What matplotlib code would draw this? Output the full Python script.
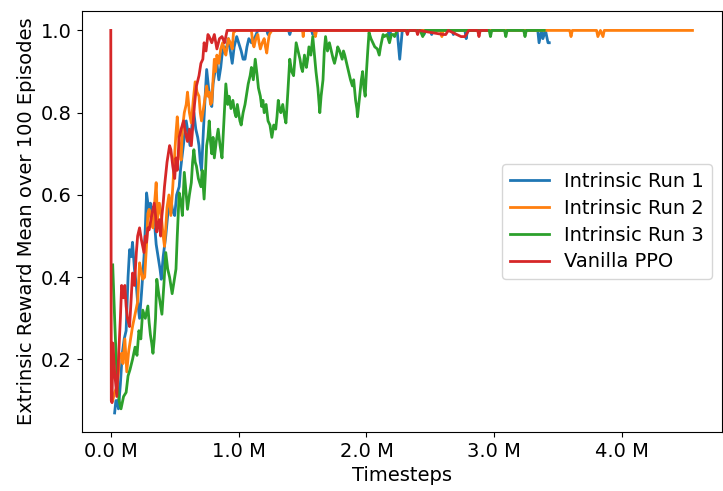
import matplotlib
matplotlib.use("Agg")
import matplotlib.pyplot as plt
from matplotlib.ticker import FuncFormatter

## Data (timesteps in millions, reward mean)
run1_t = [0.03, 0.04, 0.05, 0.06, 0.075, 0.09, 0.105, 0.12, 0.135, 0.147, 0.16, 0.17, 0.185,
          0.20, 0.21, 0.225, 0.24, 0.26, 0.27, 0.28, 0.29, 0.30, 0.31, 0.32, 0.33, 0.34,
          0.355, 0.37, 0.385, 0.395, 0.41, 0.43, 0.445, 0.46, 0.47, 0.485, 0.50, 0.515,
          0.535, 0.545, 0.56, 0.575, 0.59, 0.605, 0.62, 0.635, 0.65, 0.665, 0.68, 0.69,
          0.70, 0.71, 0.725, 0.74, 0.75, 0.765, 0.78, 0.79, 0.80, 0.815, 0.83, 0.845, 0.86,
          0.87, 0.885, 0.90, 0.92, 0.935, 0.95, 0.965, 0.985, 1.00, 1.02, 1.035, 1.05,
          1.065, 1.08, 1.10, 1.13, 1.15,
          1.22, 1.23, 1.24, 1.39, 1.40, 1.41, 1.57, 1.58, 1.59, 2.17, 2.18, 2.19, 2.24,
          2.26, 2.28, 2.44, 2.45, 2.46, 2.50, 2.51, 2.52, 2.67, 2.68, 2.69, 2.77, 2.78,
          2.79, 3.34, 3.35, 3.37, 3.38, 3.40, 3.42, 3.43]
run1_r = [0.07, 0.10, 0.10, 0.08, 0.14, 0.215, 0.25, 0.27, 0.40, 0.467, 0.45, 0.485, 0.42,
          0.38, 0.34, 0.30, 0.36, 0.45, 0.52, 0.605, 0.58, 0.56, 0.58, 0.55, 0.57, 0.54,
          0.48, 0.45, 0.42, 0.395, 0.45, 0.50, 0.55, 0.57, 0.59, 0.56, 0.55, 0.60,
          0.62, 0.66, 0.70, 0.74, 0.78, 0.75, 0.72, 0.77, 0.80, 0.76, 0.74, 0.72,
          0.68, 0.66, 0.76, 0.85, 0.905, 0.86, 0.83, 0.815, 0.87, 0.90, 0.92, 0.88, 0.91,
          0.94, 0.96, 0.95, 0.98, 0.95, 0.92, 0.96, 0.985, 0.97, 0.95, 0.93, 0.93,
          0.96, 0.98, 0.97, 0.985, 1.0,
          1.0, 0.99, 1.0, 1.0, 0.99, 1.0, 1.0, 0.99, 1.0, 1.0, 0.98, 1.0, 1.0,
          0.93, 1.0, 1.0, 0.99, 1.0, 1.0, 0.99, 1.0, 1.0, 0.99, 1.0, 1.0, 0.98,
          1.0, 1.0, 0.97, 1.0, 0.98, 1.0, 0.97, 0.97]

run2_t = [0.015, 0.03, 0.05, 0.06, 0.07, 0.085, 0.095, 0.11, 0.125, 0.14, 0.155, 0.17, 0.19,
          0.21, 0.225, 0.24, 0.25, 0.265, 0.28, 0.29, 0.30, 0.315, 0.33, 0.345, 0.355,
          0.365, 0.38, 0.395, 0.41, 0.42, 0.43, 0.44, 0.455, 0.47, 0.485, 0.50, 0.51,
          0.52, 0.535, 0.55, 0.56, 0.575, 0.59, 0.60, 0.615, 0.63, 0.645, 0.66, 0.675,
          0.69, 0.70, 0.71, 0.73, 0.75, 0.76, 0.77, 0.78, 0.79, 0.80, 0.81, 0.82, 0.83,
          0.845, 0.86, 0.875, 0.89, 0.90, 0.91, 0.92, 0.935, 0.95, 0.96, 0.98,
          1.10, 1.11, 1.12, 1.135, 1.15, 1.16, 1.17, 1.185, 1.20, 1.21, 1.22, 1.23, 1.24,
          1.26, 1.50, 1.505, 1.51, 1.59, 1.60,
          1.61, 2.58, 2.59, 2.60, 3.59, 3.60, 3.61, 3.80, 3.81, 3.83, 3.85, 3.86, 4.55]
run2_r = [0.10, 0.12, 0.135, 0.17, 0.21, 0.215, 0.19, 0.25, 0.17, 0.22, 0.25, 0.28, 0.31,
          0.34, 0.435, 0.41, 0.395, 0.40, 0.48, 0.555, 0.565, 0.54, 0.52, 0.59, 0.63,
          0.54, 0.58, 0.55, 0.50, 0.475, 0.52, 0.57, 0.60, 0.55, 0.62, 0.70, 0.75,
          0.79, 0.72, 0.685, 0.76, 0.80, 0.82, 0.85, 0.80, 0.775, 0.83, 0.875, 0.85,
          0.84, 0.80, 0.78, 0.82, 0.865, 0.84, 0.85, 0.82, 0.825, 0.88, 0.93, 0.90, 0.94,
          0.92, 0.955, 0.97, 0.95, 0.94, 0.96, 0.98, 0.97, 0.955, 0.995, 1.0,
          1.0, 0.97, 0.96, 0.98, 0.99, 0.97, 0.955, 0.97, 0.98, 0.96, 0.945, 0.97, 0.99,
          1.0, 1.0, 0.985, 1.0, 1.0, 0.985,
          1.0, 1.0, 0.985, 1.0, 1.0, 0.985, 1.0, 1.0, 0.985, 1.0, 0.985, 1.0, 1.0]

run3_t = [0.015, 0.03, 0.05, 0.065, 0.08, 0.10, 0.12, 0.135, 0.15, 0.17, 0.19, 0.205, 0.22,
          0.235, 0.25, 0.27, 0.29, 0.30, 0.31, 0.32, 0.33, 0.34, 0.35, 0.36, 0.375, 0.39,
          0.40, 0.415, 0.43, 0.445, 0.46, 0.47, 0.48, 0.495, 0.51, 0.52, 0.535, 0.55,
          0.56, 0.575, 0.585, 0.60, 0.615, 0.63, 0.64, 0.65, 0.66, 0.67, 0.685, 0.705,
          0.715, 0.73, 0.74, 0.75, 0.76, 0.77, 0.78, 0.79, 0.80, 0.81, 0.825, 0.84, 0.855,
          0.87, 0.885, 0.90, 0.915, 0.925, 0.94, 0.955, 0.97, 0.98, 0.99, 1.00, 1.01,
          1.02, 1.035, 1.05, 1.06, 1.075, 1.09, 1.10, 1.115, 1.13, 1.145, 1.155, 1.17,
          1.18, 1.19, 1.20, 1.215, 1.23, 1.245, 1.26, 1.275, 1.29, 1.30, 1.31, 1.32, 1.33,
          1.345, 1.36, 1.37, 1.385, 1.40, 1.415, 1.43, 1.44, 1.45, 1.465, 1.48, 1.49,
          1.50, 1.515, 1.53, 1.54, 1.55, 1.565, 1.58, 1.59, 1.605, 1.62, 1.635, 1.645,
          1.66, 1.67, 1.68, 1.695, 1.71, 1.725, 1.74, 1.75, 1.765, 1.775, 1.79, 1.81,
          1.82, 1.83, 1.845, 1.86, 1.875, 1.89, 1.90, 1.915, 1.925, 1.93, 1.94, 1.95,
          1.96, 1.97, 1.98, 1.99, 2.00, 2.01, 2.02, 2.035, 2.05, 2.065, 2.085, 2.10,
          2.11, 2.12, 2.13, 2.14, 2.16, 2.18, 2.195, 2.21, 2.22, 2.24,
          2.42, 2.44, 2.46, 2.96, 2.97, 2.98, 3.08, 3.09, 3.10, 3.23, 3.24, 3.25, 3.39]
run3_r = [0.43, 0.30, 0.14, 0.10, 0.08, 0.11, 0.12, 0.16, 0.175, 0.20, 0.23, 0.21, 0.27,
          0.25, 0.32, 0.30, 0.33, 0.29, 0.26, 0.24, 0.215, 0.25, 0.30, 0.395, 0.36, 0.33,
          0.31, 0.38, 0.46, 0.42, 0.40, 0.38, 0.36, 0.39, 0.42, 0.50, 0.605, 0.58,
          0.55, 0.655, 0.62, 0.565, 0.60, 0.63, 0.68, 0.71, 0.68, 0.67, 0.64, 0.62,
          0.66, 0.59, 0.65, 0.72, 0.74, 0.78, 0.73, 0.70, 0.74, 0.69, 0.73, 0.76, 0.72,
          0.69, 0.78, 0.87, 0.82, 0.84, 0.81, 0.83, 0.80, 0.79, 0.82, 0.80, 0.78,
          0.77, 0.80, 0.82, 0.84, 0.87, 0.89, 0.91, 0.88, 0.93, 0.89, 0.86, 0.84,
          0.815, 0.83, 0.80, 0.82, 0.78, 0.77, 0.74, 0.77, 0.76, 0.79, 0.83, 0.81, 0.80,
          0.82, 0.79, 0.775, 0.85, 0.93, 0.90, 0.89, 0.93, 0.97, 0.95, 0.93, 0.91,
          0.90, 0.94, 0.91, 0.93, 0.96, 0.94, 0.985, 0.95, 0.90, 0.86, 0.80, 0.84,
          0.88, 0.95, 0.985, 0.95, 0.97, 0.95, 0.93, 0.92, 0.94, 0.96, 0.95, 0.93,
          0.95, 0.94, 0.92, 0.90, 0.88, 0.865, 0.88, 0.83, 0.81, 0.79, 0.82, 0.85,
          0.88, 0.90, 0.86, 0.84, 0.90, 0.95, 0.995, 0.98, 0.97, 0.96, 0.955, 0.94,
          0.96, 0.975, 0.99, 0.985, 0.99, 0.97, 0.99, 0.99, 0.985, 1.0,
          1.0, 0.985, 1.0, 1.0, 0.985, 1.0, 1.0, 0.985, 1.0, 1.0, 0.985, 1.0, 1.0]

ppo_t = [0.0, 0.004, 0.01, 0.016, 0.03, 0.047, 0.06, 0.075, 0.085, 0.10, 0.11, 0.12, 0.13,
         0.147, 0.16, 0.17, 0.185, 0.20, 0.21, 0.225, 0.24, 0.26, 0.27, 0.28, 0.29, 0.30,
         0.32, 0.34, 0.35, 0.36, 0.37, 0.38, 0.39, 0.40, 0.41, 0.42, 0.44, 0.46, 0.47,
         0.485, 0.50, 0.51, 0.52, 0.535, 0.55, 0.57, 0.585, 0.60, 0.615, 0.63, 0.645,
         0.655, 0.67, 0.69, 0.705, 0.72, 0.73, 0.745, 0.76, 0.77, 0.79, 0.81, 0.83, 0.85,
         0.87, 0.89, 0.91, 2.31, 2.32,
         2.33, 2.39, 2.40, 2.41, 2.60, 2.62, 2.64, 2.74, 2.77, 2.80, 2.87, 2.88, 2.89, 2.94]
ppo_r = [1.0, 0.10, 0.095, 0.24, 0.17, 0.11, 0.20, 0.30, 0.38, 0.35, 0.38, 0.33, 0.30,
         0.28, 0.35, 0.41, 0.38, 0.46, 0.50, 0.52, 0.49, 0.46, 0.50, 0.485, 0.52, 0.515,
         0.55, 0.58, 0.55, 0.51, 0.53, 0.54, 0.50, 0.55, 0.58, 0.62, 0.68, 0.72, 0.71,
         0.67, 0.64, 0.69, 0.66, 0.74, 0.76, 0.78, 0.75, 0.73, 0.76, 0.72, 0.78,
         0.82, 0.865, 0.89, 0.92, 0.93, 0.97, 0.95, 0.99, 0.985, 0.97, 0.99, 0.955, 0.98,
         0.985, 0.97, 1.0, 1.0, 0.99,
         1.0, 1.0, 0.99, 1.0, 0.99, 0.99, 1.0, 0.985, 0.985, 1.0, 1.0, 0.985, 1.0, 1.0]

series = [
    (run1_t, run1_r, 'Intrinsic Run 1', 'tab:blue'),
    (run2_t, run2_r, 'Intrinsic Run 2', 'tab:orange'),
    (run3_t, run3_r, 'Intrinsic Run 3', 'tab:green'),
    (ppo_t, ppo_r, 'Vanilla PPO', 'tab:red'),
]

fig, ax = plt.subplots(figsize=(7.23, 4.91), dpi=100)
for t, r, label, color in series:
    ax.plot([v * 1e6 for v in t], r, color=color, linewidth=2, label=label)

ax.xaxis.set_major_formatter(FuncFormatter(lambda x, pos: '%.1f M' % (x / 1e6)))
ax.tick_params(labelsize=14)
ax.set_xlabel('Timesteps', fontsize=14)
ax.set_ylabel('Extrinsic Reward Mean over 100 Episodes', fontsize=14)
ax.legend(loc='center right', fontsize=14, labelspacing=0.4)

plt.subplots_adjust(left=0.113, right=0.998, bottom=0.12, top=0.977)
plt.savefig('out.png')
